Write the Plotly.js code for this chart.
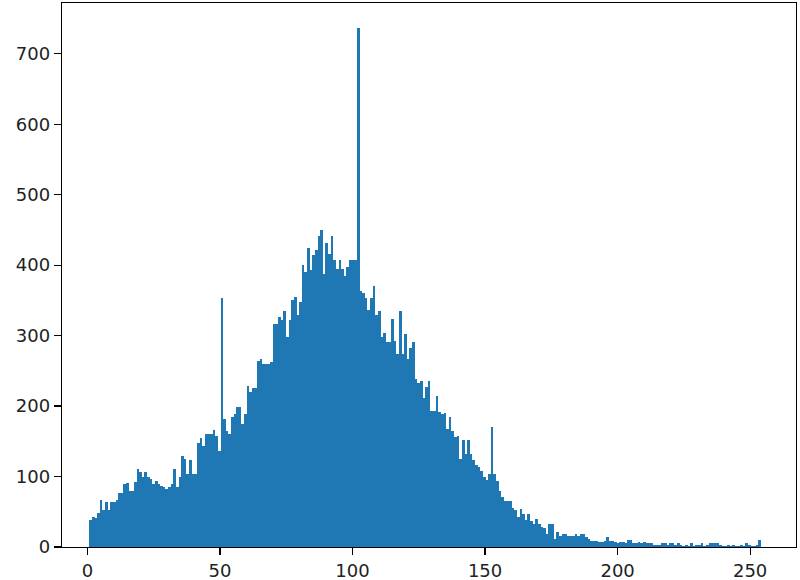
<!DOCTYPE html>
<html>
<head>
<meta charset="utf-8">
<script src="https://cdn.plot.ly/plotly-3.0.1.min.js"></script>
<style>
  html, body { margin: 0; padding: 0; background: #fff; }
  #chart { width: 800px; height: 580px; }
</style>
</head>
<body>
<div id="chart"></div>
<script>
// histogram counts, 256 bins
const counts = [
  39, 43, 41, 48, 67, 53, 64, 53, 64, 64, 66, 76, 76, 90, 91, 80,
  80, 92, 110, 106, 99, 106, 99, 97, 90, 94, 90, 87, 85, 83, 85, 90,
  110, 85, 100, 129, 125, 104, 123, 104, 104, 147, 154, 144, 160, 160, 160, 166,
  158, 136, 354, 182, 165, 160, 184, 189, 198, 198, 175, 189, 228, 220, 226, 226,
  264, 267, 260, 260, 260, 262, 317, 317, 326, 322, 335, 298, 322, 351, 355, 329,
  348, 400, 390, 425, 393, 414, 422, 441, 450, 388, 431, 416, 442, 407, 395, 407,
  395, 385, 397, 408, 408, 408, 736, 363, 360, 354, 336, 354, 371, 329, 335, 298,
  303, 291, 291, 323, 293, 274, 335, 274, 302, 267, 282, 291, 239, 233, 236, 212,
  227, 236, 193, 193, 215, 191, 189, 190, 168, 185, 165, 156, 157, 125, 152, 132,
  152, 132, 123, 116, 113, 108, 100, 95, 103, 171, 103, 94, 80, 71, 65, 65,
  65, 56, 53, 42, 54, 47, 39, 47, 37, 33, 40, 32, 28, 27, 19, 32,
  32, 12, 21, 16, 19, 19, 15, 15, 15, 19, 15, 19, 19, 14, 12, 8,
  8, 8, 7, 7, 9, 14, 9, 9, 7, 5, 7, 7, 5, 10, 10, 5,
  6, 7, 5, 7, 6, 5, 6, 3, 3, 3, 6, 6, 3, 6, 6, 3,
  6, 3, 2, 3, 2, 5, 2, 3, 3, 5, 2, 3, 5, 5, 5, 5,
  3, 2, 2, 3, 1, 3, 2, 2, 3, 2, 5, 3, 2, 2, 3, 10
];

// bin range of the pixel values
const binLo = 0.7;
const binHi = 254.1;

const xTicks = [0, 50, 100, 150, 200, 250];
const yTicks = [0, 100, 200, 300, 400, 500, 600, 700];

const binWidth = (binHi - binLo) / counts.length;
const centers = counts.map((_, i) => binLo + (i + 0.5) * binWidth);

const trace = {
    x: centers,
    y: counts,
    type: 'bar',
    width: binWidth,
    marker: { color: '#1f77b4', line: { width: 0 } },
    hoverinfo: 'x+y'
};

const axisStyle = {
    showgrid: false,
    zeroline: false,
    showline: true,
    mirror: true,
    linecolor: '#000',
    linewidth: 1.2,
    ticks: 'outside',
    ticklen: 7,
    tickwidth: 1.2,
    tickcolor: '#000',
    tickfont: { family: 'DejaVu Sans', size: 18, color: '#222' }
};

const layout = {
    width: 800,
    height: 580,
    margin: { l: 62, r: 4, t: 3, b: 33 },
    paper_bgcolor: '#fff',
    plot_bgcolor: '#fff',
    bargap: 0,
    showlegend: false,
    xaxis: Object.assign({}, axisStyle, {
        range: [-9.6, 267.3],
        tickvals: xTicks,
        ticktext: xTicks.map(String)
    }),
    yaxis: Object.assign({}, axisStyle, {
        range: [0, 772],
        tickvals: yTicks,
        ticktext: yTicks.map(String)
    })
};

Plotly.newPlot('chart', [trace], layout, { staticPlot: true });
</script>
</body>
</html>
